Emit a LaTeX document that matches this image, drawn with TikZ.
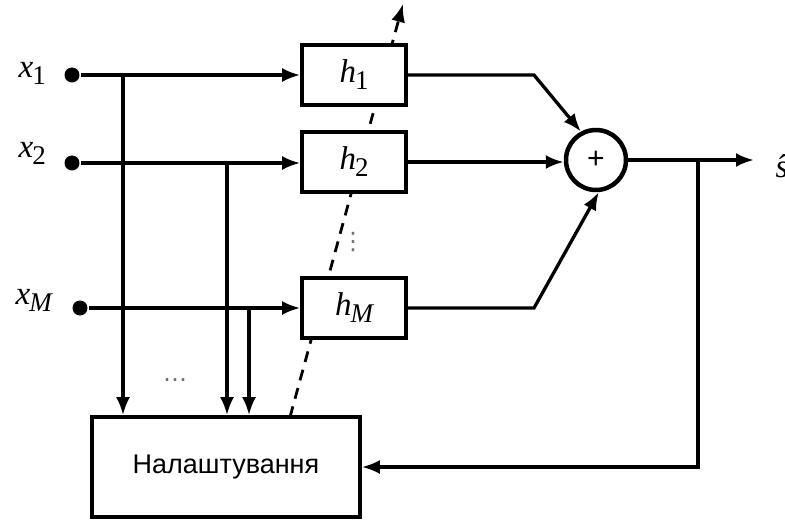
\documentclass[tikz,border=0pt]{standalone}
\usepackage{fontspec}
\newfontfamily\lsans{Liberation Sans}
\newfontfamily\lserif{Liberation Serif}
\newfontfamily\dejavu{DejaVu Sans}
\usetikzlibrary{arrows.meta}
\newcommand{\vlab}[2]{{\lserif\itshape #1}\kern-1pt\raisebox{-7pt}{\lserif\fontsize{27}{27}\selectfont #2}}
\newcommand{\vlabit}[2]{{\lserif\itshape #1}\kern-1pt\raisebox{-7pt}{\lserif\itshape\fontsize{27}{27}\selectfont #2}}
\begin{document}
\begin{tikzpicture}[x=1pt,y=-1pt, line width=3.3pt,
  arr/.style={-{Latex[length=18pt,width=14pt]}},
  hbox/.style={draw, line width=3.6pt, minimum width=104pt, minimum height=60pt, fill=white, inner sep=0pt, font=\lserif\fontsize{33}{33}\selectfont},
  dotnode/.style={circle, fill=black, inner sep=0pt, minimum size=15pt},
  lab/.style={font=\lserif\fontsize{33}{33}\selectfont, inner sep=0pt}]
\useasboundingbox (0,0) rectangle (785,520);

% dashed adjustment arrow (under boxes)
\coordinate (dbot) at (290,417);
\coordinate (dtop) at (403,4);
\draw[line width=2.8pt, dash pattern=on 11pt off 8pt, -{Latex[length=18pt,width=14pt]}] (dbot) -- (dtop);

% boxes
\node[hbox] (h1) at (354,75) {\vlab{h}{1}};
\node[hbox] (h2) at (354,162) {\vlab{h}{2}};
\node[hbox] (hM) at (354,308) {\vlabit{h}{M}};
\node[draw, line width=3.6pt, minimum width=268pt, minimum height=100pt, inner sep=0pt, font=\lsans\fontsize{27}{27}\selectfont] (adj) at (226,467) {Налаштування};
\node[circle, draw, line width=4.5pt, minimum size=60pt, inner sep=0pt, font=\lsans\fontsize{30}{30}\selectfont] (s) at (596,160) {+};

% inputs
\node[dotnode] (d1) at (72,75) {};
\node[dotnode] (d2) at (72,163) {};
\node[dotnode] (dM) at (80,308) {};
\node[lab, anchor=west] (l1) at (17,73) {\vlab{x}{1}};
\node[lab, anchor=west] (l2) at (17,153) {\vlab{x}{2}};
\node[lab, anchor=west] (lM) at (14,300) {\vlabit{x}{M}};

\draw[arr] (d1) -- (h1.west);
\draw[arr] (d2) -- (d2 -| h2.west);
\draw[arr] (dM) -- (dM -| hM.west);

% taps to adjustment block
\coordinate (b1) at (123,75);
\coordinate (b2) at (227,163);
\coordinate (bM) at (249,308);
\draw[arr] (b1) -- (b1 |- adj.north);
\draw[arr] (b2) -- (b2 |- adj.north);
\draw[arr] (bM) -- (bM |- adj.north);

\node[font=\dejavu\fontsize{24}{24}\selectfont, text=black!55, inner sep=0pt] (hd) at (175,383) {⋯};
\node[font=\dejavu\fontsize{24}{24}\selectfont, text=black!55, inner sep=0pt] (vd) at (353,242) {⋮};

% to summer
\coordinate (k1) at (534,75);
\coordinate (kM) at (534,308);
\draw[arr] (h1.east) -- (k1) -- (s.118);
\draw[arr] (h2.east) -- (h2.east -| s.west);
\draw[arr] (hM.east) -- (kM) -- (s.-85);

% output and feedback
\coordinate (out) at (754,160);
\coordinate (fb) at (698,160);
\draw[arr] (s.east) -- (out);
\node[lab, anchor=west, font=\lserif\itshape\fontsize{33}{33}\selectfont] (sh) at (774,166) {ŝ};
\draw[arr] (fb) -- (fb |- adj.east) -- (adj.east);
\end{tikzpicture}
\end{document}
